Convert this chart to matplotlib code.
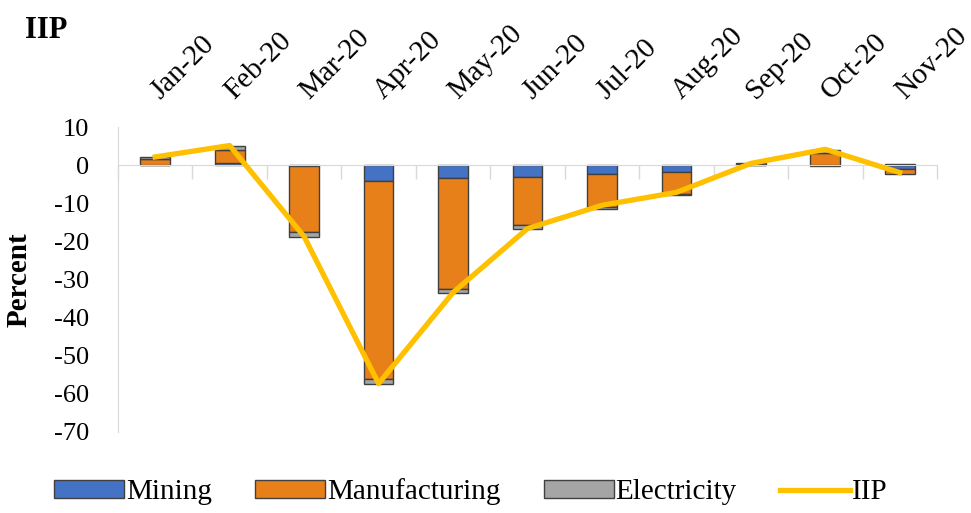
import matplotlib

matplotlib.use("Agg")
import matplotlib.pyplot as plt
import numpy as np
from matplotlib.patches import Patch
from matplotlib.lines import Line2D

months = ["Jan-20", "Feb-20", "Mar-20", "Apr-20", "May-20", "Jun-20",
          "Jul-20", "Aug-20", "Sep-20", "Oct-20", "Nov-20"]
mining = [0.0, 0.6, -0.1, -4.2, -3.2, -3.0, -2.3, -1.8, 0.2, -0.2, -1.0]
manufacturing = [1.7, 3.4, -17.5, -51.8, -29.3, -12.8, -8.7, -5.6, 0.1, 3.3, -1.3]
electricity = [0.5, 1.2, -1.1, -1.5, -1.0, -0.8, -0.5, -0.3, 0.4, 0.8, 0.4]
iip = [2.2, 5.2, -18.7, -57.3, -33.4, -16.6, -10.5, -7.1, 0.5, 4.2, -1.9]

plt.rcParams["font.family"] = ["Liberation Serif", "DejaVu Serif"]
plt.rcParams["axes.unicode_minus"] = False

fig = plt.figure(figsize=(9.71, 5.13), dpi=100)
ax = fig.add_axes([0.1215, 0.158, 0.8435, 0.594])

x = np.arange(len(months))
pos = np.zeros(len(months))
neg = np.zeros(len(months))
series = [("Mining", mining, "#4472C4"),
          ("Manufacturing", manufacturing, "#E8801A"),
          ("Electricity", electricity, "#A5A5A5")]
for name, vals, color in series:
    vals = np.array(vals)
    bottom = np.where(vals >= 0, pos, neg)
    ax.bar(x, vals, width=0.4, bottom=bottom, color=color,
           edgecolor="#404040", linewidth=1.0, zorder=2)
    pos = pos + np.clip(vals, 0, None)
    neg = neg + np.clip(vals, None, 0)

ax.plot(x, iip, color="#FFC000", linewidth=3.8, zorder=3, solid_joinstyle="round")

ax.set_xlim(-0.5, len(months) - 0.5)
ax.set_ylim(-70, 10)
ax.set_yticks(range(-70, 11, 10))
ax.tick_params(axis="y", length=0, pad=21, labelsize=19)

# category axis sits on the zero line, labels go on top
ax.spines["bottom"].set_position(("data", 0))
ax.spines["bottom"].set_color("#D9D9D9")
ax.spines["left"].set_color("#D9D9D9")
ax.spines["top"].set_visible(False)
ax.spines["right"].set_visible(False)
ax.set_xticks(x)
ax.set_xticklabels(months)
ax.set_xticks(np.arange(-0.5, len(months), 1.0), minor=True)
ax.tick_params(axis="x", which="major", bottom=False, top=False,
               labelbottom=False, labeltop=True, labelsize=21, pad=20)
ax.tick_params(axis="x", which="minor", bottom=True, direction="out",
               length=10, color="#D9D9D9", width=1)
for lbl in ax.get_xticklabels():
    lbl.set_rotation(45)
    lbl.set_rotation_mode("anchor")
    lbl.set_ha("left")
    lbl.set_va("center")

ax.set_ylabel("Percent", fontsize=21, fontweight="bold")
ax.yaxis.set_label_coords(-0.104, 0.5)

fig.text(0.026, 0.94, "IIP", fontsize=22, fontweight="bold", va="center", ha="left")

handles = [Patch(facecolor=c, edgecolor="#404040", linewidth=1.0) for _, _, c in series]
handles.append(Line2D([0], [0], color="#FFC000", linewidth=3.8))
labels = [s[0] for s in series] + ["IIP"]
fig.legend(handles, labels, loc="center", bbox_to_anchor=(0.485, 0.041), ncol=4,
           frameon=False, fontsize=21, handlelength=2.4, handleheight=0.55,
           handletextpad=0.05, columnspacing=1.5)

fig.savefig("out.png", dpi=100)
plt.close(fig)
